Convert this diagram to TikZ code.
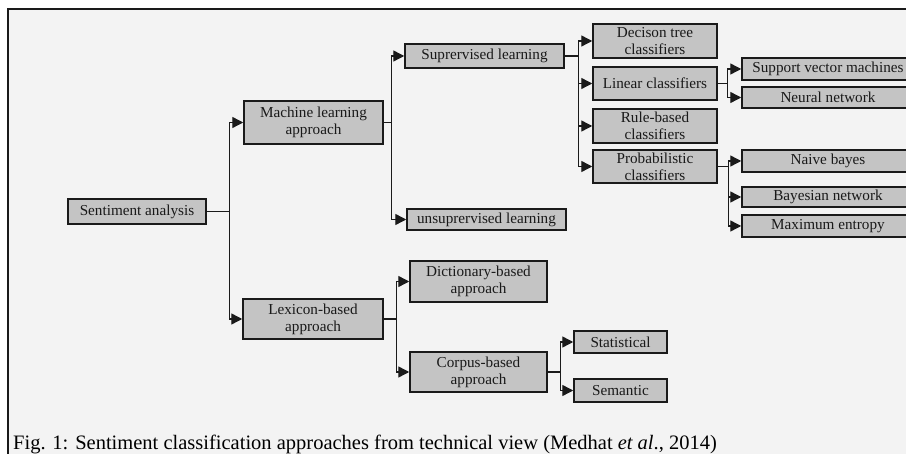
\documentclass[tikz,border=0pt]{standalone}
\usepackage{fontspec}
\setmainfont{Liberation Serif}
\usetikzlibrary{arrows.meta}
\definecolor{smBack}{HTML}{F3F3F3}
\definecolor{smBox}{HTML}{C4C4C4}
\definecolor{smLine}{HTML}{1A1A1A}
\tikzset{
    smNode/.style={
        rectangle,
        draw=smLine,
        line width=1.5pt,
        fill=smBox,
        inner sep=0pt,
        align=center,
        text=black!90,
        font=\fontsize{15.2}{17}\selectfont
    },
    smArrow/.style={-{Triangle[length=11pt,width=11pt]}, line width=1.4pt, draw=smLine},
    smFrame/.style={draw=smLine, line width=1.2pt, fill=smBack}
}
\begin{document}
\begin{tikzpicture}[x=1pt,y=-1pt]
    \clip (0,0) rectangle (906,454);
    % Frame
    \draw[smFrame] (8,9) rectangle (930,480);

    % Root and first level
    \node[smNode, minimum width=138pt, minimum height=25pt] (sent) at (137,211.5) {Sentiment analysis};
    \node[smNode, minimum width=139pt, minimum height=43pt] (ml) at (313.5,122.5) {Machine learning\\approach};
    \node[smNode, minimum width=140pt, minimum height=40pt] (lex) at (313,319) {Lexicon-based\\approach};

    % Machine learning branch
    \node[smNode, minimum width=159pt, minimum height=24pt] (sup) at (484.5,56) {Suprervised learning};
    \node[smNode, minimum width=159pt, minimum height=21pt] (unsup) at (486.5,219.5) {unsuprervised learning};

    % Supervised classifiers
    \node[smNode, minimum width=124pt, minimum height=34pt] (dectree) at (655,41) {Decison tree\\classifiers};
    \node[smNode, minimum width=124pt, minimum height=33pt] (linear) at (655,83.5) {Linear classifiers};
    \node[smNode, minimum width=124pt, minimum height=34pt] (rule) at (655,126) {Rule-based\\classifiers};
    \node[smNode, minimum width=124pt, minimum height=33pt] (prob) at (655,166.5) {Probabilistic\\classifiers};

    % Linear and probabilistic leaves
    \node[smNode, minimum width=172pt, minimum height=22pt] (svm) at (828,69) {Support vector machines};
    \node[smNode, minimum width=172pt, minimum height=21pt] (neural) at (828,97.5) {Neural network};
    \node[smNode, minimum width=172pt, minimum height=22pt] (naive) at (828,161) {Naive bayes};
    \node[smNode, minimum width=172pt, minimum height=20pt] (bayes) at (828,197) {Bayesian network};
    \node[smNode, minimum width=172pt, minimum height=22pt] (maxent) at (828,226) {Maximum entropy};

    % Lexicon branch
    \node[smNode, minimum width=137pt, minimum height=41pt] (dict) at (478.5,281.5) {Dictionary-based\\approach};
    \node[smNode, minimum width=137pt, minimum height=40pt] (corpus) at (478.5,372) {Corpus-based\\approach};
    \node[smNode, minimum width=93pt, minimum height=22pt] (stat) at (620.5,342) {Statistical};
    \node[smNode, minimum width=93pt, minimum height=23pt] (sem) at (620.5,390.5) {Semantic};

    % Connectors
    \foreach \c in {ml,lex} \draw[smArrow] (sent.east) -- ++(23,0) |- (\c.west);
    \foreach \c in {sup,unsup} \draw[smArrow] (ml.east) -- ++(8,0) |- (\c.west);
    \foreach \c in {dectree,linear,rule,prob} \draw[smArrow] (sup.east) -- ++(14,0) |- (\c.west);
    \foreach \c in {svm,neural} \draw[smArrow] (linear.east) -- ++(10,0) |- (\c.west);
    \foreach \c in {naive,bayes,maxent} \draw[smArrow] (prob.east) -- ++(11,0) |- (\c.west);
    \foreach \c in {dict,corpus} \draw[smArrow] (lex.east) -- ++(13,0) |- (\c.west);
    \foreach \c in {stat,sem} \draw[smArrow] (corpus.east) -- ++(13,0) |- (\c.west);

    % Caption
    \node[anchor=base west, inner sep=0pt, font=\fontsize{20.5}{24}\selectfont] (caption) at (13,450) {Fig. 1: Sentiment classification approaches from technical view (Medhat \textit{et al}., 2014)};
\end{tikzpicture}
\end{document}
